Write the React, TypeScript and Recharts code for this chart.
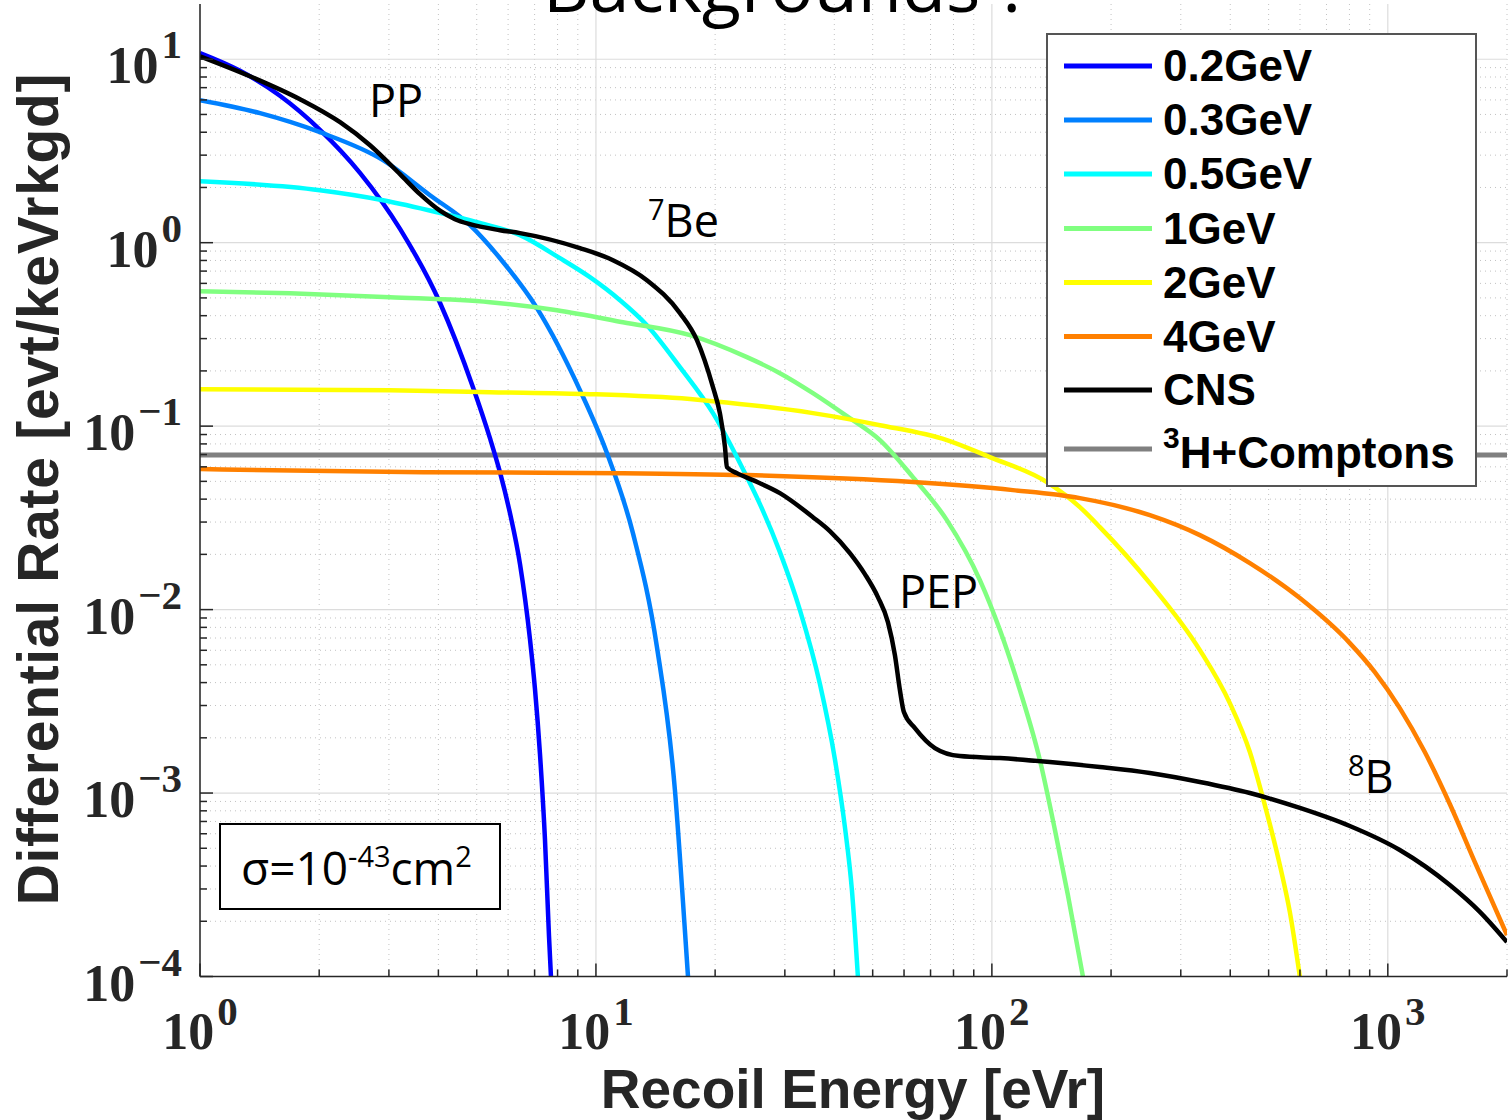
import React from 'react';
import { LineChart, Line, XAxis, YAxis, CartesianGrid } from 'recharts';

const W = 1512;
const H = 1120;

// ---- data: recoil energy [eVr] vs differential rate [evt/keVr/kg/d] ----
const energy02GeV = [1, 1.262, 1.592, 2.009, 2.535, 3.2, 4.037, 4.891, 5.399, 5.722, 6.065, 6.43, 6.813, 7.015, 7.222, 7.434, 7.609, 7.698];
const rate02GeV = [10.8, 8.646, 6.318, 4.124, 2.404, 1.19, 0.4704, 0.163, 0.086, 0.05614, 0.03357, 0.0177, 0.006908, 0.003688, 0.001632, 0.000561, 0.000168, 0.0001];

const energy03GeV = [1, 1.418, 2.009, 2.899, 3.809, 4.807, 5.722, 7.096, 9.112, 10.66, 12.4, 14.26, 15.83, 16.78, 17.08];
const rate03GeV = [5.98, 5.08, 4.0, 2.817, 1.815, 1.246, 0.823, 0.4396, 0.1571, 0.0713, 0.02611, 0.006246, 0.001038, 0.000177, 0.0001];

const energy05GeV = [1, 2.009, 2.899, 3.968, 5.006, 6.43, 8.112, 9.656, 11.5, 13.45, 16.3, 19.75, 24.06, 25.95, 29.15, 32.75, 36.79, 40.13, 42.54, 44.31, 45.88];
const rate05GeV = [2.163, 1.932, 1.704, 1.466, 1.293, 1.099, 0.823, 0.6486, 0.4859, 0.3551, 0.2097, 0.1177, 0.05274, 0.03757, 0.02058, 0.009938, 0.003926, 0.001532, 0.000653, 0.000296, 0.0001];

const energy1GeV = [1, 1.688, 3.018, 5.399, 7.971, 11.7, 17.28, 24.06, 29.15, 35.32, 43.03, 52.15, 63.17, 76.97, 93.27, 104.8, 117.7, 132.2, 144.3, 155.6, 169.8];
const rate1GeV = [0.544, 0.5306, 0.5047, 0.4738, 0.4286, 0.3687, 0.3133, 0.2377, 0.1944, 0.1513, 0.1133, 0.08389, 0.05274, 0.03074, 0.01448, 0.007733, 0.003642, 0.001513, 0.000629, 0.000278, 0.0001];

const energy2GeV = [1, 3.018, 5.399, 9.656, 17.28, 19.75, 35.32, 52.15, 76.97, 98.83, 137.7, 166.8, 187.4, 250.6, 335.2, 399.0, 448.3, 489.1, 533.7, 565.6, 599.5];
const rate2GeV = [0.1591, 0.1571, 0.1532, 0.1494, 0.1404, 0.1368, 0.1177, 0.1012, 0.08389, 0.06779, 0.04953, 0.03619, 0.02817, 0.01394, 0.006017, 0.003093, 0.001673, 0.00086, 0.000405, 0.000225, 0.0001];

const energy4GeV = [1, 3.658, 11.7, 24.06, 63.17, 113.0, 166.8, 250.6, 335.2, 448.3, 599.5, 801.7, 927.3, 1072, 1240, 1434, 1658, 2000];
const rate4GeV = [0.05831, 0.05614, 0.05544, 0.05408, 0.04953, 0.04479, 0.04051, 0.03273, 0.02547, 0.01792, 0.01155, 0.006567, 0.004564, 0.002905, 0.001673, 0.000871, 0.000421, 0.000168];

const energyCNS = [1, 1.337, 1.789, 2.258, 2.688, 3.2, 3.594, 4.037, 4.405, 4.807, 5.722, 6.43, 9.112, 11.04, 13.45, 16.3, 17.99, 19.75, 20.56, 21.18, 21.42, 22.7, 24.92, 29.15, 35.32, 38.98, 43.79, 47.78, 51.54, 54.63, 56.9, 58.58, 59.95, 63.93, 71.79, 83.04, 104.8, 140.1, 187.4, 250.6, 335.2, 448.3, 599.5, 801.7, 1072, 1434, 1708, 2000];
const rateCNS = [10.38, 8.08, 6.053, 4.536, 3.399, 2.362, 1.838, 1.494, 1.343, 1.261, 1.17, 1.127, 0.9333, 0.8029, 0.6247, 0.4128, 0.2942, 0.163, 0.1177, 0.07684, 0.05979, 0.05544, 0.05077, 0.04313, 0.03191, 0.02678, 0.02032, 0.01561, 0.0117, 0.008548, 0.005649, 0.003642, 0.002763, 0.00226, 0.001759, 0.00159, 0.001551, 0.001475, 0.001386, 0.001285, 0.001148, 0.001, 0.000829, 0.000661, 0.000489, 0.000315, 0.000225, 0.000154];

const energyBkg = [1, 2000];
const rateBkg = [0.0695, 0.0695];

const seriesNames = ['0.2GeV', '0.3GeV', '0.5GeV', '1GeV', '2GeV', '4GeV', 'CNS', '3H+Comptons'];
const seriesColors = ['#0000ff', '#0080ff', '#00ffff', '#80ff80', '#ffff00', '#ff8000', '#000000', '#808080'];

// ---- axis ticks ----
const xMajorTicks = [1, 10, 100, 1000];
const xMinorTicks = [2, 3, 4, 5, 6, 7, 8, 9, 20, 30, 40, 50, 60, 70, 80, 90, 200, 300, 400, 500, 600, 700, 800, 900, 2000];
const yMajorTicks = [0.0001, 0.001, 0.01, 0.1, 1, 10];
const yMinorTicks = [
  0.0002, 0.0003, 0.0004, 0.0005, 0.0006, 0.0007, 0.0008, 0.0009,
  0.002, 0.003, 0.004, 0.005, 0.006, 0.007, 0.008, 0.009,
  0.02, 0.03, 0.04, 0.05, 0.06, 0.07, 0.08, 0.09,
  0.2, 0.3, 0.4, 0.5, 0.6, 0.7, 0.8, 0.9,
  2, 3, 4, 5, 6, 7, 8, 9,
];
const xAllTicks = [...xMajorTicks, ...xMinorTicks].sort((a, b) => a - b);
const yAllTicks = [...yMajorTicks, ...yMinorTicks].sort((a, b) => a - b);

const zip = (xs: number[], ys: number[]) => xs.map((e, i) => ({ e, r: ys[i] }));

const seriesData = [
  zip(energy02GeV, rate02GeV),
  zip(energy03GeV, rate03GeV),
  zip(energy05GeV, rate05GeV),
  zip(energy1GeV, rate1GeV),
  zip(energy2GeV, rate2GeV),
  zip(energy4GeV, rate4GeV),
  zip(energyCNS, rateCNS),
  zip(energyBkg, rateBkg),
];
// drawing order: background line first, then WIMP curves, then CNS on top
const drawOrder = [7, 0, 1, 2, 3, 4, 5, 6];

const AXIS_COLOR = '#262626';
const TICK_FONT = "'Liberation Serif', 'Times New Roman', serif";
const LABEL_FONT = "'Liberation Sans', Arial, sans-serif";
const NOTE_FONT = "'Open Sans', 'Noto Sans', sans-serif";

const expOf = (v: number) => Math.round(Math.log10(v));
const isMajor = (v: number) => Math.abs(Math.log10(v) - expOf(v)) < 1e-6;
const expText = (n: number) => (n < 0 ? '\u2212' + Math.abs(n) : String(n));

const renderXTick = (props: any) => {
  const { x, y, payload } = props;
  const v = payload.value;
  const major = isMajor(v);
  return (
    <g>
      <line x1={x} x2={x} y1={y} y2={y - (major ? 13 : 7)} stroke={AXIS_COLOR} strokeWidth={1.5} />
      {major && (
        <text x={x} y={y + 72} textAnchor="middle" fontFamily={TICK_FONT} fontWeight="bold" fontSize={52} fill={AXIS_COLOR}>
          10
          <tspan dx={3} dy={-24} fontSize={41}>{expText(expOf(v))}</tspan>
        </text>
      )}
    </g>
  );
};

const renderYTick = (props: any) => {
  const { x, y, payload } = props;
  const v = payload.value;
  const major = isMajor(v);
  return (
    <g>
      <line x1={x} x2={x + (major ? 13 : 7)} y1={y} y2={y} stroke={AXIS_COLOR} strokeWidth={1.5} />
      {major && (
        <text x={x - 18} y={y + 24} textAnchor="end" fontFamily={TICK_FONT} fontWeight="bold" fontSize={52} fill={AXIS_COLOR}>
          10
          <tspan dx={3} dy={-25} fontSize={41}>{expText(expOf(v))}</tspan>
        </text>
      )}
    </g>
  );
};

const legendRowsY = [66, 120, 174, 228.5, 282.5, 336.5, 390, 449];

export default function App() {
  return (
    <div style={{ position: 'absolute', left: 0, top: 0, width: W, height: H, background: '#ffffff', overflow: 'hidden' }}>
      <LineChart width={W} height={H} margin={{ top: 4, right: 5, bottom: 0, left: 0 }}>
        <CartesianGrid
          verticalValues={xMinorTicks}
          horizontalValues={yMinorTicks}
          stroke="#c2c2c2"
          strokeWidth={1}
          strokeDasharray="1 4"
        />
        <CartesianGrid verticalValues={xMajorTicks} horizontalValues={yMajorTicks} stroke="#dcdcdc" strokeWidth={1.2} />
        <XAxis
          dataKey="e"
          type="number"
          scale="log"
          domain={[1, 2000]}
          allowDataOverflow
          ticks={xAllTicks}
          interval={0}
          tick={renderXTick}
          tickLine={false}
          tickSize={0}
          tickMargin={0}
          height={143.5}
          axisLine={{ stroke: AXIS_COLOR, strokeWidth: 1.5 }}
        />
        <YAxis
          dataKey="r"
          type="number"
          scale="log"
          domain={[0.0001, 20]}
          allowDataOverflow
          ticks={yAllTicks}
          interval={0}
          tick={renderYTick}
          tickLine={false}
          tickSize={0}
          tickMargin={0}
          width={200}
          axisLine={{ stroke: AXIS_COLOR, strokeWidth: 1.5 }}
        />
        {drawOrder.map((i) => (
          <Line
            key={seriesNames[i]}
            name={seriesNames[i]}
            data={seriesData[i]}
            dataKey="r"
            type="monotone"
            stroke={seriesColors[i]}
            strokeWidth={i === 7 ? 5 : 4.5}
            dot={false}
            activeDot={false}
            isAnimationActive={false}
          />
        ))}
      </LineChart>

      <svg width={W} height={H} style={{ position: 'absolute', left: 0, top: 0, pointerEvents: 'none' }}>
        {/* title (cut off by the top of the image, as in the reference) */}
        <text x={543} y={12} fontFamily={NOTE_FONT} fontSize={72} fill="#000">Backgrounds ?</text>

        {/* axis titles */}
        <text x={853} y={1108} textAnchor="middle" fontFamily={LABEL_FONT} fontWeight="bold" fontSize={55} fill={AXIS_COLOR}>
          Recoil Energy [eVr]
        </text>
        <text transform="translate(58,489) rotate(-90)" textAnchor="middle" fontFamily={LABEL_FONT} fontWeight="bold" fontSize={57} letterSpacing={0.7} fill={AXIS_COLOR}>
          Differential Rate [evt/keVrkgd]
        </text>

        {/* annotations */}
        <text x={369} y={117} fontFamily={NOTE_FONT} fontSize={45} fill="#000">PP</text>
        <text x={648} y={237} fontFamily={NOTE_FONT} fontSize={45} fill="#000">
          <tspan fontSize={29} dy={-17}>7</tspan>
          <tspan dy={17}>Be</tspan>
        </text>
        <text x={899} y={608} fontFamily={NOTE_FONT} fontSize={45} fill="#000">PEP</text>
        <text x={1348} y={793} fontFamily={NOTE_FONT} fontSize={45} fill="#000">
          <tspan fontSize={29} dy={-17}>8</tspan>
          <tspan dy={17}>B</tspan>
        </text>

        {/* cross-section box */}
        <rect x={220} y={824} width={280} height={85} fill="#ffffff" stroke="#000" strokeWidth={2} />
        <text x={241} y={885} fontFamily={NOTE_FONT} fontSize={46} fill="#000">
          σ=10
          <tspan fontSize={29} dy={-18}>-43</tspan>
          <tspan dy={18}>cm</tspan>
          <tspan fontSize={29} dy={-18}>2</tspan>
        </text>

        {/* legend */}
        <rect x={1047} y={34} width={429} height={452} fill="#ffffff" stroke="#555555" strokeWidth={2} />
        {seriesNames.map((name, i) => {
          const yy = legendRowsY[i];
          return (
            <g key={name}>
              <line x1={1064} x2={1152} y1={yy} y2={yy} stroke={seriesColors[i]} strokeWidth={5} />
              {i === 7 ? (
                <text x={1163} y={yy + 19} fontFamily={LABEL_FONT} fontWeight="bold" fontSize={44} fill="#000">
                  <tspan fontSize={30} dy={-20}>3</tspan>
                  <tspan dy={20}>{name.slice(1)}</tspan>
                </text>
              ) : (
                <text x={1163} y={yy + 15} fontFamily={LABEL_FONT} fontWeight="bold" fontSize={44} fill="#000">
                  {name}
                </text>
              )}
            </g>
          );
        })}
      </svg>
    </div>
  );
}
